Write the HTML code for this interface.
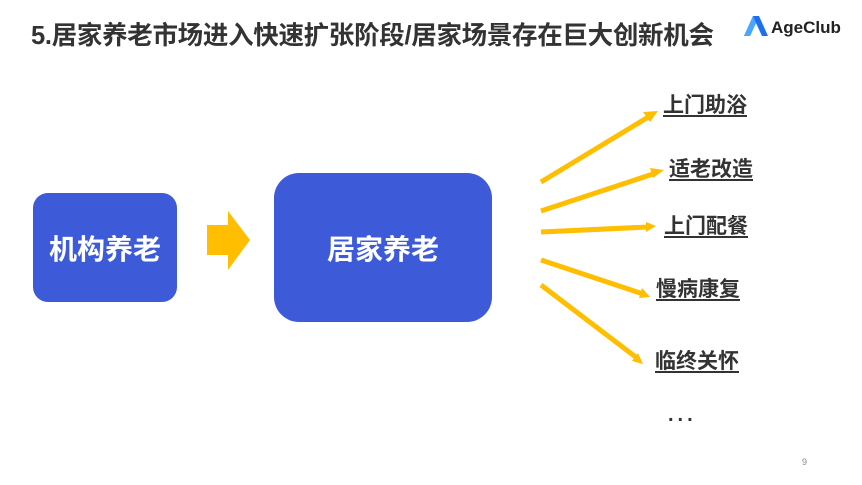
<html><head><style>
body{margin:0;width:862px;height:485px;background:#fff;position:relative;overflow:hidden;font-family:"Liberation Sans","Noto Sans CJK SC",sans-serif}
.t{position:absolute;left:31px;top:15px;font-size:25.5px;font-weight:bold;color:#333;white-space:nowrap;letter-spacing:-0.3px}
.box{position:absolute;background:#3d5bd9;color:#fff;font-weight:bold;display:flex;align-items:center;justify-content:center}
.l{position:absolute;font-size:21px;font-weight:bold;color:#333;text-decoration:underline;text-underline-offset:3px;white-space:nowrap}
</style></head><body>
<div class="t">5.居家养老市场进入快速扩张阶段/居家场景存在巨大创新机会</div>
<svg style="position:absolute;left:744px;top:14px" width="24" height="24" viewBox="0 0 24 24"><polygon points="9,2 15,2 24,22 18,22 12,9 6,22 0,22" fill="#1e6ef0"/><polygon points="9,2 12,9 6,22 0,22" fill="#46a8ff"/></svg>
<div style="position:absolute;left:771px;top:18px;font-size:17px;font-weight:bold;color:#222">AgeClub</div>
<div class="box" style="left:33px;top:193px;width:144px;height:109px;border-radius:15px;font-size:28px">机构养老</div>
<svg style="position:absolute;left:0;top:0" width="862" height="485">
<polygon points="207,225 228,225 228,211 250,240 228,270 228,255 207,255" fill="#ffbe00"/>
<g stroke="#ffbe00" stroke-width="5" fill="#ffbe00">
<line x1="541" y1="182" x2="650" y2="116"/><line x1="541" y1="211" x2="656" y2="173"/><line x1="541" y1="232" x2="648" y2="227"/><line x1="541" y1="260" x2="643" y2="294"/><line x1="541" y1="285" x2="637" y2="358"/>
</g>
<g fill="#ffbe00">
<polygon points="658,111 643,112 650,122"/><polygon points="664,170 650,168 653,178"/><polygon points="656,226 646,222 646,232"/><polygon points="650,297 642,288 639,298"/><polygon points="643,364 638,353 632,361"/>
</g>
</svg>
<div class="box" style="left:274px;top:173px;width:218px;height:149px;border-radius:25px;font-size:28px">居家养老</div>
<div class="l" style="left:663px;top:89px">上门助浴</div>
<div class="l" style="left:669px;top:153px">适老改造</div>
<div class="l" style="left:664px;top:210px">上门配餐</div>
<div class="l" style="left:656px;top:273px">慢病康复</div>
<div class="l" style="left:655px;top:345px">临终关怀</div>
<div style="position:absolute;left:668px;top:404px;font-size:20px;font-weight:bold;color:#333;letter-spacing:4px">...</div>
<div style="position:absolute;left:802px;top:457px;font-size:9px;color:#888">9</div>
</body></html>
